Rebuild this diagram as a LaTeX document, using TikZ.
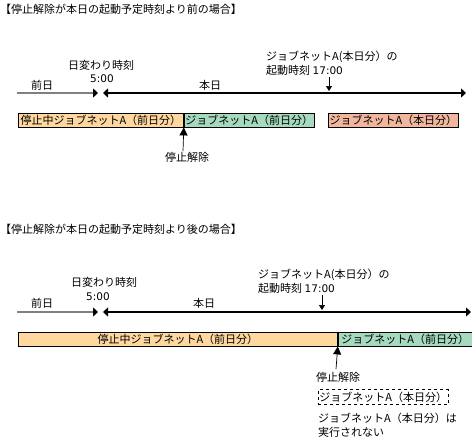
\documentclass[tikz,border=0pt]{standalone}
\usepackage{fontspec}
\setmainfont{Noto Sans CJK JP}
\newfontfamily\timefont{DejaVu Sans}
\usetikzlibrary{arrows.meta,positioning}
\definecolor{stopfill}{RGB}{255,216,160}
\definecolor{prevfill}{RGB}{166,218,190}
\definecolor{todayfill}{RGB}{240,182,158}
\definecolor{prevline}{RGB}{128,128,128}
\newcommand{\hhmm}[1]{{\timefont\fontsize{10.5}{14}\selectfont #1}}
\begin{document}
\begin{tikzpicture}[x=1pt,y=-1pt,font=\fontsize{11}{14}\selectfont,
  bar/.style={draw,line width=.8pt,minimum height=14pt,inner sep=0pt,anchor=west},
  oldday/.style={draw=prevline,line width=1.6pt,-{Triangle[length=5pt,width=9pt,black]}},
  newday/.style={line width=2.4pt,{Triangle[length=5pt,width=9pt]}-{Triangle[length=5pt,width=9pt]}},
  starttick/.style={line width=.7pt,-{Triangle[length=5pt,width=6pt]}},
  resume/.style={line width=.7pt,-{Triangle[length=8pt,width=8pt]}}]
\useasboundingbox (0,0) rectangle (472,440);
% before the start time
\node[anchor=west,inner sep=0pt] (title1) at (0,9) {【停止解除が本日の起動予定時刻より前の場合】};
\node (chg1) at (101,65) {日変わり時刻};
\node (five1) at (102,79) {\hhmm{5:00}};
\node (prev1) at (42,85) {前日};
\node (today1) at (210,85) {本日};
\coordinate (p1a) at (17,93);
\coordinate (p1b) at (98,93);
\coordinate (t1a) at (103,93);
\coordinate (t1b) at (466,93);
\draw[oldday] (p1a) -- (p1b);
\draw[newday] (t1a) -- (t1b);
\node[anchor=north west,align=left,inner sep=0pt] (start1) at (266,51) {ジョブネットA(本日分）の\\起動時刻 \hhmm{17:00}};
\coordinate (s1a) at (329,77);
\coordinate (s1b) at (329,91);
\draw[starttick] (s1a) -- (s1b);
\node[bar,fill=stopfill,minimum width=165pt] (stop1) at (18,120) {停止中ジョブネットA（前日分）};
\node[bar,fill=prevfill,minimum width=130pt,right=0pt of stop1] (prevjob1) {ジョブネットA（前日分）};
\node[bar,fill=todayfill,minimum width=130pt] (todayjob1) at (328,120) {ジョブネットA（本日分）};
\node (rel1) at (187,157) {停止解除};
\coordinate (r1a) at (183,151);
\draw[resume] (r1a) -- (stop1.south east);
% after the start time
\node[anchor=west,inner sep=0pt] (title2) at (0,229) {【停止解除が本日の起動予定時刻より後の場合】};
\node (chg2) at (104,282) {日変わり時刻};
\node (five2) at (98,297) {\hhmm{5:00}};
\node (prev2) at (42,303) {前日};
\node (today2) at (204,303) {本日};
\coordinate (p2a) at (17,312);
\coordinate (p2b) at (98,312);
\coordinate (t2a) at (103,312);
\coordinate (t2b) at (471,312);
\draw[oldday] (p2a) -- (p2b);
\draw[newday] (t2a) -- (t2b);
\node[anchor=north west,align=left,inner sep=0pt] (start2) at (258,269) {ジョブネットA(本日分）の\\起動時刻 \hhmm{17:00}};
\coordinate (s2a) at (322,295);
\coordinate (s2b) at (322,310);
\draw[starttick] (s2a) -- (s2b);
\node[bar,fill=stopfill,minimum width=319pt] (stop2) at (18,339) {停止中ジョブネットA（前日分）};
\node[bar,fill=prevfill,minimum width=134pt,right=0pt of stop2] (prevjob2) {ジョブネットA（前日分）};
\node[anchor=west,inner sep=0pt] (rel2) at (316,377) {停止解除};
\coordinate (r2a) at (336,369);
\draw[resume] (r2a) -- (stop2.south east);
\node[bar,draw,dashed,line width=.6pt,minimum width=130pt,minimum height=15pt] (todayjob2) at (318,397) {ジョブネットA（本日分）};
\node[anchor=north west,align=left,inner sep=0pt] (skip2) at (318,413) {ジョブネットA（本日分）は\\実行されない};
\end{tikzpicture}
\end{document}
